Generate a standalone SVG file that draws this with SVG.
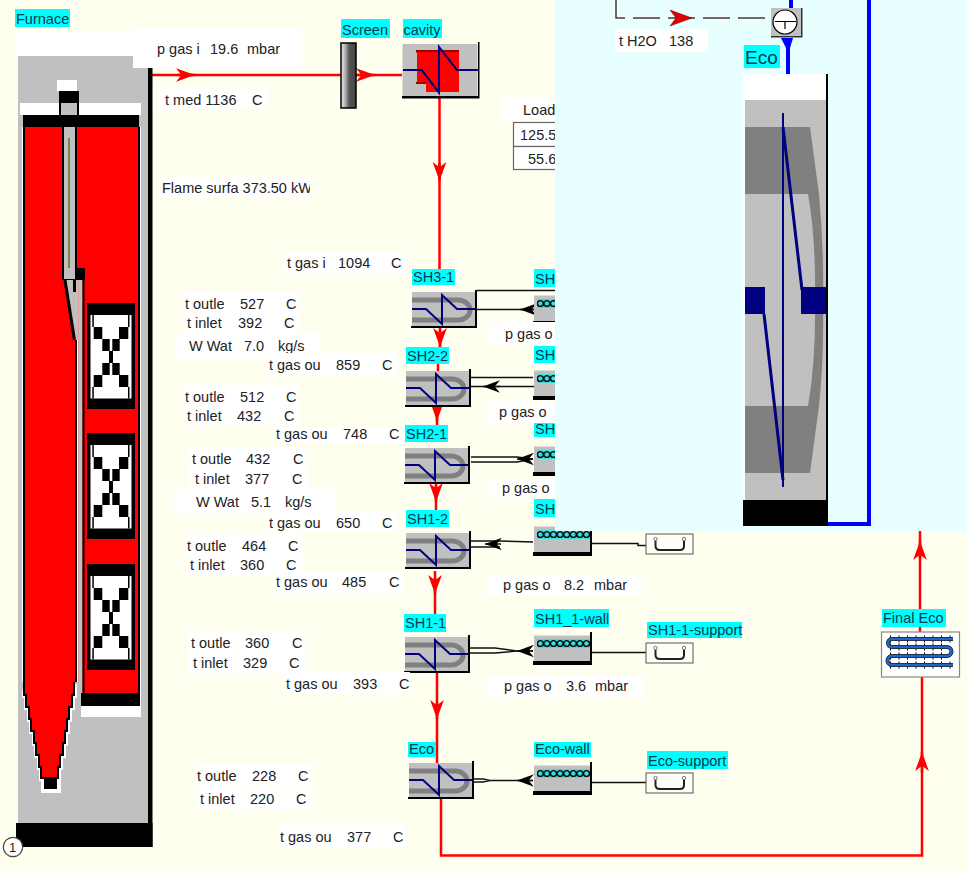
<svg xmlns="http://www.w3.org/2000/svg" width="967" height="874" viewBox="0 0 967 874">
<style>
text{font-family:"Liberation Sans",Arial,sans-serif;font-size:14.5px;fill:#222}
.l{fill:#00ffff}.w{fill:#fff}.k{fill:#000}.g{fill:#c0c0c0}.r{fill:#f00}
.red{fill:none;stroke:#f00;stroke-width:2.5}
.blk{fill:none;stroke:#111;stroke-width:1.500}
.blu{fill:none;stroke:#00f;stroke-width:4}
.nv{fill:none;stroke:#000080;stroke-width:2}
.lab{fill:#003c50}
.ar{marker-end:url(#ra)}.ab{marker-end:url(#ba)}
.t{shape-rendering:crispEdges}
</style>
<defs>
<clipPath id="vis"><path d="M0 0H555V531H967V874H0Z"/></clipPath>
<clipPath id="fl"><rect x="160" y="175" width="150" height="25"/></clipPath>
<marker id="ra" markerUnits="userSpaceOnUse" markerWidth="20" markerHeight="16" viewBox="-18 -7 19 14" refX="0" refY="0" orient="auto"><path d="M0 0L-18-6.5L-13 0L-18 6.5Z" fill="#f00"/></marker>
<marker id="ba" markerUnits="userSpaceOnUse" markerWidth="18" markerHeight="14" viewBox="-16 -6 17 12" refX="0" refY="0" orient="auto"><path d="M0 0L-16-6L-11 0L-16 6Z" fill="#000"/></marker>
<linearGradient id="scr"><stop offset="0" stop-color="#eee"/><stop offset=".3" stop-color="#aaa"/><stop offset=".55" stop-color="#555"/><stop offset="1" stop-color="#444"/></linearGradient>
<pattern id="chain" patternUnits="userSpaceOnUse" patternTransform="translate(3 7)" width="6.600" height="9"><rect width="6.600" height="9" fill="#40e0e0"/><circle cx="3.300" cy="4.500" r="2.900" fill="#40e0e0" stroke="#000" stroke-width="1.300"/></pattern>
<g id="hx">
<rect width="63" height="34" class="g"/>
<path d="M0 8H46A12 10 0 0 1 46 28H0" fill="none" stroke="#808080" stroke-width="5"/>
<path class="nv" d="M0 17H14L30 32V3L45 17H64"/>
<path d="M63-2h2V36H-1v-2H63Z" class="k"/>
</g>
<g id="wall">
<rect y="3.500" width="56" height="25.500" class="g"/>
<rect x="3" y="7" width="53" height="9" fill="url(#chain)"/>
<rect x="-1" y="29" width="57" height="4" class="k"/>
<rect x="56" width="2" height="33" class="k"/>
</g>
<g id="sup">
<rect width="47" height="20" fill="#fffff8" stroke="#555"/>
<path d="M9.500 6V12Q9.500 16 14 16H34Q38 16 38 12V6" fill="none" stroke="#222" stroke-width="2"/>
<circle cx="9.500" cy="5" r="1.700" fill="#fff" stroke="#777"/><circle cx="38" cy="5" r="1.700" fill="#fff" stroke="#777"/>
</g>
<g id="xp">
<rect width="48" height="106" class="k"/>
<rect x="3.500" y="12" width="41" height="83.500" class="w"/>
<g class="k">
<rect x="6.700" y="24" width="8.600" height="12"/><rect x="32" y="24" width="9.300" height="12"/>
<rect x="15.300" y="36" width="7.400" height="12"/><rect x="25.300" y="36" width="7.400" height="12"/>
<rect x="22" y="48" width="4" height="12"/>
<rect x="15.300" y="60" width="7.400" height="12"/><rect x="25.300" y="60" width="7.400" height="12"/>
<rect x="6.700" y="72" width="8.600" height="12"/><rect x="32" y="72" width="9.300" height="12"/>
<rect x="5.300" y="12" width="1.500" height="12"/><rect x="41" y="12" width="1.500" height="12"/>
<rect x="5.300" y="84" width="1.500" height="11.500"/><rect x="41" y="84" width="1.500" height="11.500"/>
</g>
</g>
</defs>
<rect width="967" height="874" fill="#fffff0"/>
<rect id="panel" x="555" width="412" height="531" fill="#e8ffff"/>

<g id="connectors">
<path class="red" d="M152 75H341"/><path class="red ar" d="M177 75H195"/>
<path class="red" d="M356 75H402"/><path class="red ar" d="M357 75H375"/>
<path class="red" d="M439.500 98V270"/><path class="red ar" d="M439.500 163V181"/>
<path class="red" d="M440 328V348M438 348V372"/><path class="red ar" d="M440 329V347"/>
<path class="red" d="M437 406V426"/><path class="red ar" d="M437 405V421"/>
<path class="red" d="M436 484V511"/><path class="red ar" d="M436 485V502"/>
<path class="red" d="M435 571V615"/><path class="red ar" d="M435 578V594"/>
<path class="red" d="M437 673V764"/><path class="red ar" d="M437 702V719"/>
<path class="red" d="M441 797V855.500H922V677"/><path class="red ar" d="M922 773V752"/>
<path class="red" d="M920 632V531"/><path class="red ar" d="M920 559V541"/>
<path class="blk" d="M477 290.500H555M477 309.500H534"/><path class="blk ab" d="M534 309.500H520"/>
<path class="blk" d="M471 377.500H533M471 386.500H534"/><path class="blk ab" d="M500 386.500H483"/>
<path class="blk" d="M471 457H517L533 459M471 462H517L533 459"/><path class="blk ab" d="M533 459H517"/>
<path class="blk" d="M471 541H500L533 542M471 547H500"/><path class="blk ab" d="M501 544H485"/>
<path class="blk" d="M591 543.500H638V545.500H646"/>
<path class="blk" d="M470 648H495L517 651M470 653H495L517 651H533"/><path class="blk ab" d="M533 651H517"/>
<path class="blk" d="M591 652.500H646"/>
<path class="blk" d="M473 779H483L490 780.500M473 782H483L490 780.500H533"/><path class="blk ab" d="M533 780.500H517"/>
<path class="blk" d="M591 782.500H646"/>
<path class="blu" d="M791 0V8M788 46V74M869 0V524H828"/>
<path fill="none" stroke="#5c3030" stroke-width="1.500" stroke-dasharray="27 8" d="M616 0V18H770"/>
</g>

<g id="Furnace">
<rect x="15" y="32" width="118" height="24" class="w"/>
<rect x="18" y="56" width="130" height="767" class="g"/>
<rect x="148" y="68" width="4.500" height="779" class="k"/>
<rect x="16" y="823" width="136.500" height="24" class="k"/>
<rect x="57" y="80" width="20" height="11" class="w"/>
<rect x="20" y="103" width="121" height="12" class="w"/>
<rect x="59" y="91" width="20" height="24" class="k"/>
<rect x="61" y="103" width="16" height="12" class="g"/>
<rect x="23" y="115" width="116" height="12" class="k"/>
<rect x="22" y="127" width="1.500" height="555" class="w"/>
<rect x="23" y="127" width="117" height="579" class="k"/>
<rect x="25" y="127" width="113" height="566" class="r"/>
<rect x="140" y="127" width="1" height="590" class="w"/>
<rect x="81" y="706" width="60" height="11" class="w"/>
<rect x="83" y="693" width="56" height="13" class="k"/>
<rect x="18" y="693" width="63" height="100" class="g"/>
<rect x="75" y="682" width="7" height="11" class="g"/>
<polyline class="t" fill="none" stroke="#fff" stroke-width="7" points="25,690 25,694 27,694 27,706 30,706 30,718 32,718 32,730 35,730 35,742 37,742 37,754 40,754 40,766 42,766 42,777 44,777 44,789 57,789 57,777 57,766 59,766 59,754 62,754 62,742 64,742 64,730 66,730 66,718 68,718 68,706 71,706 71,694 73,694 73,684"/>
<polyline class="t" fill="none" stroke="#000" stroke-width="4" points="25,682 25,694 27,694 27,706 30,706 30,718 32,718 32,730 35,730 35,742 37,742 37,754 40,754 40,766 42,766 42,777 44,777 57,777 57,766 59,766 59,754 62,754 62,742 64,742 64,730 66,730 66,718 68,718 68,706 71,706 71,694 73,694 73,682"/>
<polygon class="t r" points="25,680 25,694 27,694 27,706 30,706 30,718 32,718 32,730 35,730 35,742 37,742 37,754 40,754 40,766 42,766 42,777 57,777 57,766 59,766 59,754 62,754 62,742 64,742 64,730 66,730 66,718 68,718 68,706 71,706 71,694 73,694 73,682 75,682 75,680"/>
<rect x="44" y="777" width="13" height="12" class="k"/>
<rect x="75" y="340" width="2" height="342" class="k"/>
<rect x="77" y="280" width="1.500" height="402" class="w"/>
<rect x="78.500" y="280" width="4" height="413" class="g"/>
<rect x="82.500" y="268" width="2" height="438" class="k"/>
<rect x="76" y="268" width="9" height="12" class="k"/>
<polygon class="g" points="64,280 78,280 78,340 75,340"/>
<path d="M65 280L74.500 340" fill="none" stroke="#000" stroke-width="3"/>
<rect x="73" y="280" width="3" height="12" class="k"/>
<rect x="62" y="127" width="15" height="153" class="k"/>
<rect x="64" y="127" width="11" height="152" class="g"/>
<rect x="68" y="138" width="2" height="130" fill="#808040"/>
<use href="#xp" x="87" y="303"/><use href="#xp" x="87" y="433"/><use href="#xp" x="87" y="564"/>
<circle cx="13" cy="847" r="9.700" fill="#fff" stroke="#444" stroke-width="1.200"/>
<text x="9" y="852" style="font-size:13px">1</text>
<rect class="l" x="15" y="9" width="55" height="18"/><text class="lab" x="16" y="24">Furnace</text>
</g>

<g id="Screen">
<rect x="341" y="43" width="15" height="65" fill="url(#scr)" stroke="#000" stroke-width="1.500"/>
<rect class="l" x="341" y="19" width="49" height="19"/><text class="lab" x="342" y="35">Screen</text>
</g>
<g id="cavity">
<rect x="402.500" y="44" width="75" height="52" class="g"/>
<rect x="416" y="50" width="43" height="2.500" fill="#a00000"/>
<path class="r" d="M417 52H459V92H426V83H417Z"/>
<rect x="416" y="82" width="10" height="2" fill="#a00000"/>
<path class="nv" d="M403 70H421.700L439 92.700V47L457 70H478"/>
<path class="k" d="M478 42h1.500V98.500H402v-2.500H478Z"/>
<rect class="l" x="403" y="19" width="39" height="19"/><text class="lab" x="403.500" y="35">cavity</text>
</g>

<g id="SH3-1"><use href="#hx" x="412" y="292"/><rect class="l" x="412" y="269" width="43" height="16"/><text class="lab" x="413" y="282">SH3-1</text></g>
<g id="SH3-1-wall" clip-path="url(#vis)"><use href="#wall" x="534" y="292"/><rect class="l" x="534" y="269" width="40" height="18"/><text class="lab" x="535" y="284">SH</text></g>
<g id="SH2-2"><use href="#hx" x="406" y="371"/><rect class="l" x="406" y="347" width="43" height="17"/><text class="lab" x="407" y="361">SH2-2</text></g>
<g id="SH2-2-wall" clip-path="url(#vis)"><use href="#wall" x="534" y="367"/><rect class="l" x="534" y="346" width="40" height="17"/><text class="lab" x="535" y="360">SH</text></g>
<g id="SH2-1"><use href="#hx" x="405" y="448"/><rect class="l" x="405" y="425" width="43" height="17"/><text class="lab" x="406" y="439">SH2-1</text></g>
<g id="SH2-1-wall" clip-path="url(#vis)"><use href="#wall" x="534" y="443"/><rect class="l" x="534" y="421" width="40" height="16"/><text class="lab" x="535" y="434">SH</text></g>
<g id="SH1-2"><use href="#hx" x="406" y="533"/><rect class="l" x="406" y="510" width="43" height="17"/><text class="lab" x="407" y="524">SH1-2</text></g>
<g id="SH1-2-wall" clip-path="url(#vis)"><use href="#wall" x="534" y="523"/><rect class="l" x="534" y="499" width="40" height="18"/><text class="lab" x="535" y="514">SH</text></g>
<g id="SH1-2-support"><use href="#sup" x="646" y="534"/></g>
<g id="SH1-1"><use href="#hx" x="405" y="637"/><rect class="l" x="404" y="614" width="42" height="18"/><text class="lab" x="405" y="628">SH1-1</text></g>
<g id="SH1_1-wall"><use href="#wall" x="534" y="632"/><rect class="l" x="534" y="609" width="75" height="18"/><text class="lab" x="535" y="624">SH1_1-wall</text></g>
<g id="SH1-1-support"><use href="#sup" x="646" y="643"/><rect class="l" x="647" y="622" width="95" height="16"/><text class="lab" x="648" y="635">SH1-1-support</text></g>
<g id="Eco-lower"><use href="#hx" x="409" y="763"/><rect class="l" x="408" y="742" width="28" height="15"/><text class="lab" x="409" y="754">Eco</text></g>
<g id="Eco-wall"><use href="#wall" x="534" y="762"/><rect class="l" x="534" y="742" width="57" height="15"/><text class="lab" x="535" y="754">Eco-wall</text></g>
<g id="Eco-support"><use href="#sup" x="646" y="773"/><rect class="l" x="647" y="751" width="81" height="18"/><text class="lab" x="648" y="766">Eco-support</text></g>

<g id="Final-Eco">
<rect x="881.500" y="632" width="78" height="45" fill="#fff" stroke="#888" stroke-width="1.200"/>
<path d="M890 639H953M890 647H947M890 656H947M890 665H953" fill="none" stroke="#000" stroke-width="7" stroke-dasharray="1 7.500"/>
<path d="M953 639H892A4 4 0 0 0 892 647H947A4.500 4.500 0 0 1 947 656H892A4.500 4.500 0 0 0 892 665H953" fill="none" stroke="#222" stroke-width="4"/>
<path d="M953 639H892A4 4 0 0 0 892 647H947A4.500 4.500 0 0 1 947 656H892A4.500 4.500 0 0 0 892 665H953" fill="none" stroke="#1f66cc" stroke-width="2.500"/>
<rect class="l" x="882" y="609" width="64" height="18"/><text class="lab" x="883" y="623">Final Eco</text>
</g>

<g id="T-sensor">
<rect x="771" y="8" width="30" height="28" class="g"/>
<path d="M801 8h1.500V37.500H771V36H801Z" fill="#333"/>
<circle cx="785" cy="22" r="12" fill="#fff" stroke="#000" stroke-width="1.200"/>
<path d="M775 21.500H796M785 21.500V29" stroke="#000" stroke-width="1.200" fill="none"/>
<polygon points="781,38 793,38 790,48 786,48" fill="#00f"/>
</g>
<polygon id="dash-arrow" points="670,10 692,18 670,26 676,18" fill="#e00000" stroke="#600" stroke-width=".5"/>

<g id="Eco">
<rect x="743" y="74" width="84" height="26" class="w"/>
<rect x="743" y="100" width="2" height="400" class="w"/>
<rect x="745" y="100" width="81" height="400" class="g"/>
<path d="M745 127H810L819 194H745Z" fill="#808080"/><path d="M745 406H819L810 473H745Z" fill="#808080"/>
<path d="M808 194H819Q824 250 823 300Q824 360 819 406H808Q816 360 815 300Q816 240 808 194Z" fill="#808080"/>
<rect x="745" y="287" width="20" height="27" fill="#000080"/><rect x="801" y="287" width="25" height="27" fill="#000080"/>
<path d="M783 127L802 290M764 314L783 480" fill="none" stroke="#000080" stroke-width="3"/>
<path d="M783 113V487" fill="none" stroke="#000080" stroke-width="2"/>
<rect x="826" y="74" width="2" height="426" class="k"/>
<rect x="743" y="500" width="85" height="26" class="k"/>
<rect class="l" x="744" y="45" width="36" height="23"/><text class="lab" x="745" y="64" style="font-size:19px">Eco</text>
</g>

<g id="values">
<rect class="w" x="133" y="28" width="169" height="40"/><text x="157" y="54">p gas i</text><text x="210" y="54">19.6</text><text x="247" y="54">mbar</text>
<rect class="w" x="158" y="89" width="111" height="20"/><text x="165" y="105">t med 1136</text><text x="252" y="105">C</text>
<rect class="w" x="162" y="177" width="148" height="21"/><text x="162" y="193" clip-path="url(#fl)">Flame surfa 373.50 kW</text>
<rect class="w" x="283" y="252" width="122" height="22"/><text x="287" y="268">t gas i</text><text x="338" y="268">1094</text><text x="391" y="268">C</text>
<rect class="w" x="182" y="292" width="117" height="22"/><text x="185" y="309">t outle</text><text x="240" y="309">527</text><text x="286" y="309">C</text>
<rect class="w" x="183" y="314" width="117" height="21"/><text x="187" y="328">t inlet</text><text x="238" y="328">392</text><text x="284" y="328">C</text>
<rect class="w" x="175" y="333" width="145" height="26"/><text x="189" y="351">W Wat</text><text x="244" y="351">7.0</text><text x="278" y="351">kg/s</text>
<rect class="w" x="266" y="353" width="131" height="23"/><text x="269" y="370">t gas ou</text><text x="336" y="370">859</text><text x="382" y="370">C</text>
<rect class="w" x="183" y="385" width="116" height="22"/><text x="185" y="402">t outle</text><text x="240" y="402">512</text><text x="286" y="402">C</text>
<rect class="w" x="183" y="407" width="117" height="19"/><text x="187" y="421">t inlet</text><text x="237" y="421">432</text><text x="284" y="421">C</text>
<rect class="w" x="273" y="427" width="131" height="17"/><text x="276" y="439">t gas ou</text><text x="343" y="439">748</text><text x="389" y="439">C</text>
<rect class="w" x="189" y="447" width="117" height="23"/><text x="192" y="464">t outle</text><text x="246" y="464">432</text><text x="293" y="464">C</text>
<rect class="w" x="189" y="470" width="120" height="20"/><text x="195" y="484">t inlet</text><text x="245" y="484">377</text><text x="292" y="484">C</text>
<rect class="w" x="174" y="490" width="162" height="24"/><text x="196" y="507">W Wat</text><text x="251" y="507">5.1</text><text x="285" y="507">kg/s</text>
<rect class="w" x="266" y="511" width="131" height="21"/><text x="269" y="528">t gas ou</text><text x="336" y="528">650</text><text x="382" y="528">C</text>
<rect class="w" x="185" y="534" width="116" height="22"/><text x="187" y="551">t outle</text><text x="242" y="551">464</text><text x="288" y="551">C</text>
<rect class="w" x="185" y="556" width="118" height="19"/><text x="190" y="570">t inlet</text><text x="240" y="570">360</text><text x="286" y="570">C</text>
<rect class="w" x="273" y="571" width="131" height="22"/><text x="276" y="587">t gas ou</text><text x="342" y="587">485</text><text x="389" y="587">C</text>
<rect class="w" x="188" y="632" width="118" height="21"/><text x="191" y="648">t outle</text><text x="245" y="648">360</text><text x="292" y="648">C</text>
<rect class="w" x="188" y="653" width="118" height="21"/><text x="193" y="668">t inlet</text><text x="243" y="668">329</text><text x="289" y="668">C</text>
<rect class="w" x="283" y="672" width="127" height="22"/><text x="286" y="689">t gas ou</text><text x="353" y="689">393</text><text x="399" y="689">C</text>
<rect class="w" x="195" y="764" width="117" height="22"/><text x="197" y="781">t outle</text><text x="252" y="781">228</text><text x="298" y="781">C</text>
<rect class="w" x="195" y="788" width="118" height="21"/><text x="200" y="804">t inlet</text><text x="250" y="804">220</text><text x="296" y="804">C</text>
<rect class="w" x="279" y="825" width="126" height="23"/><text x="280" y="842">t gas ou</text><text x="347" y="842">377</text><text x="393" y="842">C</text>
<rect class="w" x="488" y="575" width="153" height="20"/><text x="503" y="590">p gas o</text><text x="564" y="590">8.2</text><text x="594" y="590">mbar</text>
<rect class="w" x="488" y="675" width="155" height="23"/><text x="504" y="691">p gas o</text><text x="566" y="691">3.6</text><text x="595" y="691">mbar</text>
<rect class="w" x="615" y="29" width="93" height="23"/><text x="619" y="46">t H2O</text><text x="669" y="46">138</text>
<g clip-path="url(#vis)">
<rect class="w" x="489" y="322" width="70" height="23"/><text x="505" y="339">p gas o</text>
<rect class="w" x="486" y="401" width="72" height="22"/><text x="499" y="417">p gas o</text>
<rect class="w" x="489" y="480" width="70" height="18"/><text x="502" y="493">p gas o</text>
<rect class="w" x="501" y="97" width="60" height="22"/><text x="523" y="115">Load</text>
<rect x="513.500" y="122.500" width="50" height="24" fill="#fff" stroke="#666" stroke-width="1.200"/><text x="520" y="140">125.5</text>
<rect x="513.500" y="146.500" width="50" height="23" fill="#fff" stroke="#666" stroke-width="1.200"/><text x="528" y="164">55.6</text>
</g>
</g>
</svg>
